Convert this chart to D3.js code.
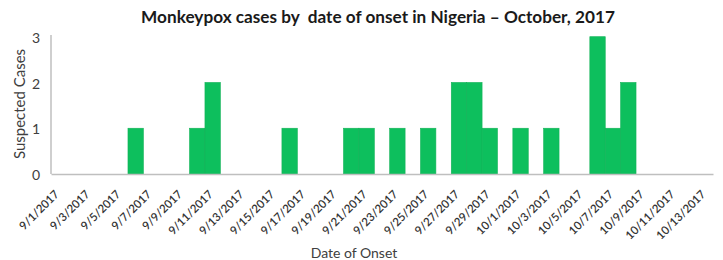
<!DOCTYPE html>
<html><head><meta charset="utf-8">
<script src="https://cdn.jsdelivr.net/npm/d3@7"></script>
<style>body{margin:0;background:#fff;} svg{display:block;}</style>
</head><body><svg id="c" width="723" height="260"></svg>
<script>
const categories = ["9/1/2017","9/2/2017","9/3/2017","9/4/2017","9/5/2017","9/6/2017","9/7/2017","9/8/2017","9/9/2017","9/10/2017",
"9/11/2017","9/12/2017","9/13/2017","9/14/2017","9/15/2017","9/16/2017","9/17/2017","9/18/2017","9/19/2017","9/20/2017",
"9/21/2017","9/22/2017","9/23/2017","9/24/2017","9/25/2017","9/26/2017","9/27/2017","9/28/2017","9/29/2017","9/30/2017",
"10/1/2017","10/2/2017","10/3/2017","10/4/2017","10/5/2017","10/6/2017","10/7/2017","10/8/2017","10/9/2017","10/10/2017",
"10/11/2017","10/12/2017","10/13/2017"];
const cases = [0,0,0,0,0,1,0,0,0,1,
2,0,0,0,0,1,0,0,0,1,
1,0,1,0,1,0,2,2,1,0,
1,0,1,0,0,3,1,2,0,0,
0,0,0];
const tickLabels = ["9/1/2017","9/3/2017","9/5/2017","9/7/2017","9/9/2017","9/11/2017","9/13/2017","9/15/2017","9/17/2017","9/19/2017",
"9/21/2017","9/23/2017","9/25/2017","9/27/2017","9/29/2017","10/1/2017","10/3/2017","10/5/2017","10/7/2017","10/9/2017",
"10/11/2017","10/13/2017"];
const yTicks = [0,1,2,3];

const svg = d3.select("#c");
const font = "Lato, 'Open Sans', sans-serif";
const x = d3.scaleBand().domain(categories).range([51, 713]).padding(0);
const y = d3.scaleLinear().domain([0, 3]).range([174, 36.7]);

// title
svg.append("text").attr("x", 378).attr("y", 23).attr("text-anchor", "middle")
  .attr("font-family", font).attr("font-weight", "bold").attr("font-size", 17.2)
  .attr("fill", "#1a1a1a").attr("xml:space","preserve")
  .text("Monkeypox cases by  date of onset in Nigeria \u2013 October, 2017");

// bars
svg.append("g").selectAll("rect").data(categories.map((c, i) => ({c, v: cases[i]})).filter(d => d.v > 0))
  .join("rect")
  .attr("x", d => x(d.c)).attr("width", x.bandwidth())
  .attr("y", d => y(d.v)).attr("height", d => y(0) - y(d.v))
  .attr("fill", "#0dbf5d").attr("stroke", "#12b257").attr("stroke-width", 0.6);

// y axis
const yAxis = d3.axisLeft(y).tickValues(yTicks).tickSize(0).tickPadding(11).tickFormat(d3.format("d"));
const gy = svg.append("g").attr("transform", "translate(51,0)").call(yAxis);
gy.select(".domain").attr("stroke", "#bfbfbf").attr("stroke-width", 1.5).attr("d", `M0,${y(0)}V35`);
gy.selectAll("text").attr("font-family", font).attr("font-size", 14).attr("fill", "#404040").attr("dy", "0.4em");

// x axis
const xAxis = d3.axisBottom(x).tickValues(tickLabels).tickSize(0).tickPadding(0);
const gx = svg.append("g").attr("transform", `translate(0,${y(0)})`).call(xAxis);
gx.select(".domain").attr("stroke", "#bfbfbf").attr("stroke-width", 1.5);
gx.selectAll("text").attr("font-family", font).attr("font-size", 11.5).attr("fill", "#333")
  .attr("font-weight", 600)
  .attr("text-anchor", "end").attr("dy", null).attr("y", 0)
  .attr("transform", "translate(1,21) rotate(-45)");

// axis titles
svg.append("text").attr("x", 354).attr("y", 258).attr("text-anchor", "middle")
  .attr("font-family", font).attr("font-size", 14).attr("fill", "#404040").text("Date of Onset");
svg.append("text").attr("transform", "translate(25,104) rotate(-90)").attr("text-anchor", "middle")
  .attr("font-family", font).attr("font-size", 15).attr("fill", "#404040").text("Suspected Cases");
</script></body></html>
